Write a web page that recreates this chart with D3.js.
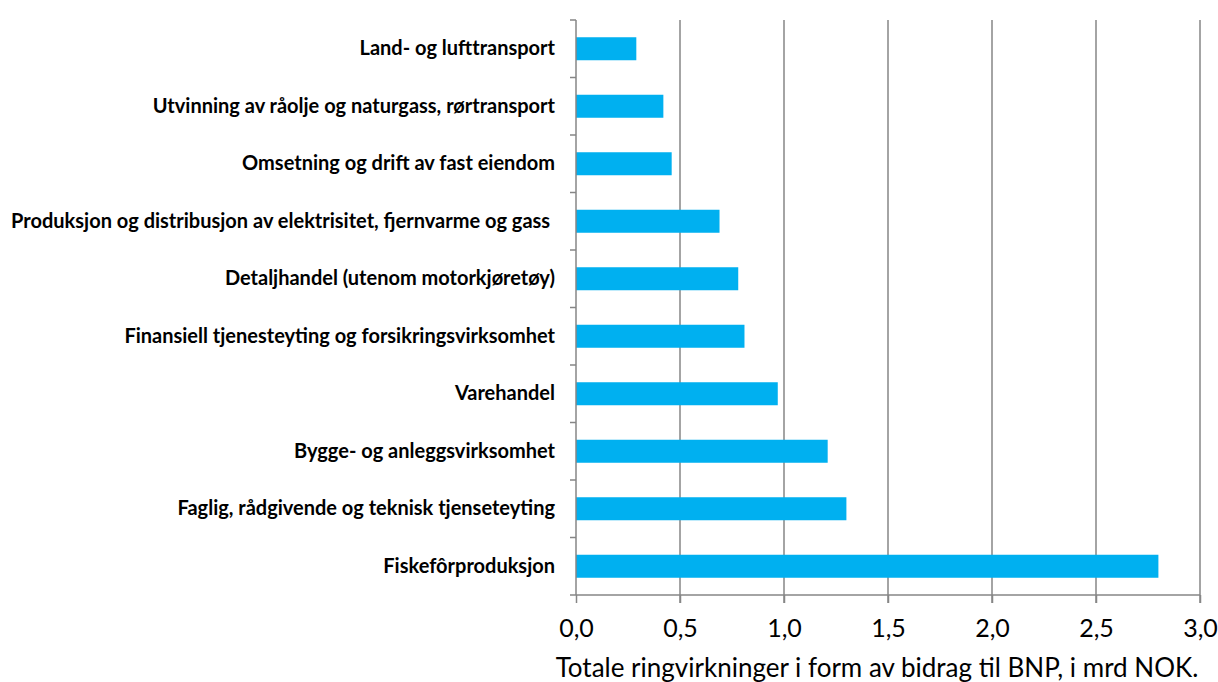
<!DOCTYPE html>
<html>
<head>
<script src="https://cdn.jsdelivr.net/npm/d3@7"></script>
<style>
body { margin: 0; background: #fff; }
text { font-family: Lato, 'Open Sans', sans-serif; fill: #000; }
</style>
</head>
<body>
<svg width="1218" height="682"></svg>
<script>
const categories = [
  'Land- og lufttransport',
  'Utvinning av råolje og naturgass, rørtransport',
  'Omsetning og drift av fast eiendom',
  'Produksjon og distribusjon av elektrisitet, fjernvarme og gass ',
  'Detaljhandel (utenom motorkjøretøy)',
  'Finansiell tjenesteyting og forsikringsvirksomhet',
  'Varehandel',
  'Bygge- og anleggsvirksomhet',
  'Faglig, rådgivende og teknisk tjenseteyting',
  'Fiskefôrproduksjon'
];
const values = [0.29, 0.42, 0.46, 0.69, 0.78, 0.81, 0.97, 1.21, 1.30, 2.80];
const xTicks = [0, 0.5, 1.0, 1.5, 2.0, 2.5, 3.0];
const xTitle = 'Totale ringvirkninger i form av bidrag til BNP, i mrd NOK.';

const svg = d3.select('svg');
const plotLeft = 576, plotRight = 1200, plotTop = 20, plotBottom = 595;

const x = d3.scaleLinear().domain([0, 3]).range([plotLeft, plotRight]);
const y = d3.scaleBand().domain(categories).range([plotTop, plotBottom])
  .paddingInner(0.6).paddingOuter(0.3);

// gridlines
svg.append('g')
  .selectAll('line')
  .data(xTicks.slice(1))
  .enter().append('line')
  .attr('x1', d => x(d)).attr('x2', d => x(d))
  .attr('y1', plotTop).attr('y2', plotBottom + 8)
  .attr('stroke', '#868686').attr('stroke-width', 1.5);

// bars
svg.append('g')
  .selectAll('rect')
  .data(values)
  .enter().append('rect')
  .attr('x', x(0))
  .attr('y', (d, i) => y(categories[i]))
  .attr('width', d => x(d) - x(0))
  .attr('height', y.bandwidth())
  .attr('fill', '#00b0f0');

// x axis
const xAxis = svg.append('g')
  .attr('transform', `translate(0,${plotBottom})`)
  .call(d3.axisBottom(x).tickValues(xTicks).tickSize(8).tickPadding(16)
    .tickFormat(d => d3.format('.1f')(d).replace('.', ',')));
xAxis.select('.domain').attr('stroke', '#868686').attr('stroke-width', 1.5)
  .attr('d', `M${plotLeft},0H${plotRight}`);
xAxis.selectAll('.tick line').attr('stroke', '#868686').attr('stroke-width', 1.5);
xAxis.selectAll('.tick text')
  .style('font-family', 'Lato, sans-serif').style('font-size', '25px').attr('fill', '#000');

// y axis
const yAxis = svg.append('g')
  .attr('transform', `translate(${plotLeft},0)`)
  .call(d3.axisLeft(y).tickSize(0).tickPadding(21));
yAxis.select('.domain').attr('stroke', '#868686').attr('stroke-width', 1.5)
  .attr('d', `M0,${plotTop}V${plotBottom}`);
yAxis.selectAll('.tick text')
  .style('font-family', 'Lato, sans-serif').style('font-size', '20px')
  .style('font-weight', 'bold').style('white-space', 'pre').attr('fill', '#000');

// category boundary ticks
const bounds = d3.range(categories.length + 1).map(i => plotTop + i * y.step());
svg.append('g')
  .selectAll('line')
  .data(bounds)
  .enter().append('line')
  .attr('x1', plotLeft - 6).attr('x2', plotLeft)
  .attr('y1', d => d).attr('y2', d => d)
  .attr('stroke', '#868686').attr('stroke-width', 1.5);

// x title
svg.append('text')
  .attr('x', 877).attr('y', 677)
  .attr('text-anchor', 'middle')
  .style('font-size', '26px')
  .text(xTitle);
</script>
</body>
</html>
